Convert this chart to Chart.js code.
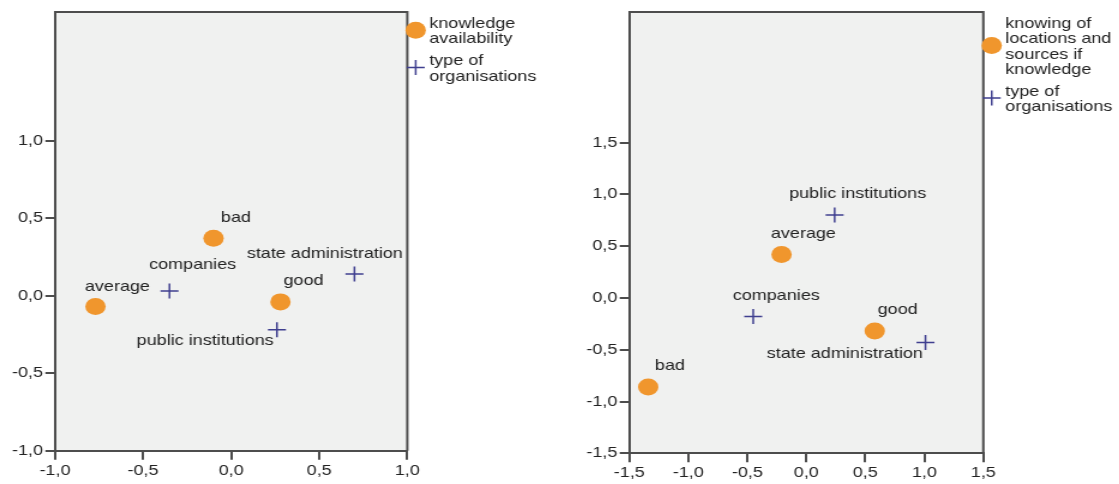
<!DOCTYPE html>
<html>
<head>
<meta charset="utf-8">
<script src="https://cdn.jsdelivr.net/npm/chart.js@4/dist/chart.umd.min.js"></script>
<style>
  body { margin: 0; background: #fff; width: 1119px; height: 484px; overflow: hidden; }
  .panel { position: absolute; top: 0; transform: scaleX(1.2); transform-origin: 0 0; }
</style>
</head>
<body>
<div class="panel" style="left:0"><canvas id="chart1" width="467" height="484"></canvas></div>
<div class="panel" style="left:560px"><canvas id="chart2" width="466" height="484"></canvas></div>
<script>
// left plot: knowledge availability x type of organisations
const availCategories = ['average', 'bad', 'good'];
const availX = [-0.77, -0.10, 0.28];
const availY = [-0.07, 0.37, -0.04];
const orgCategories1 = ['companies', 'public institutions', 'state administration'];
const orgX1 = [-0.35, 0.26, 0.70];
const orgY1 = [0.03, -0.22, 0.14];
const xTicks1 = [-1, -0.5, 0, 0.5, 1];
const yTicks1 = [-1, -0.5, 0, 0.5, 1];
const legend1 = ['knowledge\navailability', 'type of\norganisations'];

// right plot: knowing of locations and sources x type of organisations
const locCategories = ['bad', 'average', 'good'];
const locX = [-1.34, -0.21, 0.58];
const locY = [-0.86, 0.42, -0.32];
const orgCategories2 = ['companies', 'public institutions', 'state administration'];
const orgX2 = [-0.45, 0.24, 1.01];
const orgY2 = [-0.18, 0.80, -0.43];
const xTicks2 = [-1.5, -1, -0.5, 0, 0.5, 1, 1.5];
const yTicks2 = [-1.5, -1, -0.5, 0, 0.5, 1, 1.5];
const legend2 = ['knowing of\nlocations and\nsources if\nknowledge', 'type of\norganisations'];

const ORANGE = '#f0962d';
const NAVY = '#3f3f8f';
const FRAME = '#4d4d4d';
const TEXT = '#222';
const FONT = '15px "Liberation Sans", Arial, sans-serif';

const toPoints = (xs, ys) => xs.map((x, i) => ({ x, y: ys[i] }));
const fmt = v => v.toFixed(1).replace('.', ',');

function drawMarker(ctx, style, x, y) {
    if (style === 'circle') {
        ctx.fillStyle = ORANGE;
        ctx.beginPath();
        ctx.arc(x, y, 8.5, 0, Math.PI * 2);
        ctx.fill();
    } else {
        ctx.strokeStyle = NAVY;
        ctx.lineWidth = 1.5;
        ctx.beginPath();
        ctx.moveTo(x - 7.5, y); ctx.lineTo(x + 7.5, y);
        ctx.moveTo(x, y - 7.5); ctx.lineTo(x, y + 7.5);
        ctx.stroke();
    }
}

const mapDecor = {
    id: 'mapDecor',
    beforeDraw(chart) {
        const { ctx, chartArea: a } = chart;
        ctx.save();
        ctx.fillStyle = '#f0f1f0';
        ctx.fillRect(a.left, a.top, a.right - a.left, a.bottom - a.top);
        ctx.restore();
    },
    beforeDatasetsDraw(chart) {
        const { ctx, chartArea: a } = chart;
        ctx.save();
        ctx.strokeStyle = FRAME;
        ctx.lineWidth = 2;
        ctx.beginPath();
        ctx.moveTo(a.left, a.top);
        ctx.lineTo(a.right, a.top);
        ctx.lineTo(a.right, a.bottom);
        ctx.stroke();
        ctx.restore();
    },
    afterDraw(chart, args, opts) {
        const { ctx, chartArea: a } = chart;
        ctx.save();
        ctx.font = FONT;
        ctx.fillStyle = TEXT;
        ctx.textAlign = 'center';
        ctx.textBaseline = 'middle';

        // category labels next to the points
        chart.data.datasets.forEach((ds, i) => {
            const meta = chart.getDatasetMeta(i);
            meta.data.forEach((el, j) => {
                const [dx, dy] = opts.offsets[i][j];
                ctx.fillText(ds.names[j], el.x + dx, el.y + dy);
            });
        });

        // legend at the right of the frame
        let y = 24;
        chart.data.datasets.forEach((ds, i) => {
            const lines = opts.legend[i].split('\n');
            const top = y;
            ctx.fillStyle = TEXT;
            ctx.textAlign = 'left';
            lines.forEach(line => {
                ctx.fillText(line, a.right + 18.3, y);
                y += 15.3;
            });
            const mid = top + (lines.length - 1) * 15.3 / 2 - 1.5;
            drawMarker(ctx, ds.pointStyle, a.right + 7, mid);
            y += 22 - 15.3;
        });
        ctx.restore();
    }
};

function makeMap(id, cfg) {
    const axisFont = { family: '"Liberation Sans", Arial, sans-serif', size: 15 };
    return new Chart(document.getElementById(id), {
        type: 'scatter',
        data: {
            datasets: [{
                label: cfg.legend[0],
                names: cfg.rowNames,
                data: toPoints(cfg.rowX, cfg.rowY),
                pointStyle: 'circle',
                pointRadius: 8.5,
                backgroundColor: ORANGE,
                borderColor: ORANGE,
                borderWidth: 0
            }, {
                label: cfg.legend[1],
                names: cfg.colNames,
                data: toPoints(cfg.colX, cfg.colY),
                pointStyle: 'cross',
                pointRadius: 7.5,
                borderColor: NAVY,
                borderWidth: 1.5
            }]
        },
        options: {
            responsive: false,
            animation: false,
            events: [],
            layout: { padding: { top: 12, right: cfg.padRight, left: 0, bottom: 0 } },
            plugins: {
                legend: { display: false },
                tooltip: { enabled: false },
                mapDecor: { offsets: cfg.offsets, legend: cfg.legend }
            },
            scales: {
                x: {
                    type: 'linear',
                    min: cfg.xMin, max: cfg.xMax,
                    afterFit: s => { s.height = cfg.xHeight; },
                    afterBuildTicks: s => { s.ticks = cfg.xTicks.map(v => ({ value: v })); },
                    grid: { drawOnChartArea: false, tickLength: 9, color: FRAME, lineWidth: 2 },
                    border: { display: true, color: FRAME, width: 2 },
                    ticks: { font: axisFont, color: TEXT, padding: 2, maxRotation: 0, callback: fmt }
                },
                y: {
                    type: 'linear',
                    min: cfg.yMin, max: cfg.yMax,
                    afterFit: s => { s.width = cfg.yWidth; },
                    afterBuildTicks: s => { s.ticks = cfg.yTicks.map(v => ({ value: v })); },
                    grid: { drawOnChartArea: false, tickLength: 8, color: FRAME, lineWidth: 2 },
                    border: { display: true, color: FRAME, width: 2 },
                    ticks: { font: axisFont, color: TEXT, padding: 2, callback: fmt }
                }
            }
        },
        plugins: [mapDecor]
    });
}

makeMap('chart1', {
    rowNames: availCategories, rowX: availX, rowY: availY,
    colNames: orgCategories1, colX: orgX1, colY: orgY1,
    legend: legend1,
    xMin: -1, xMax: 1, yMin: -1, yMax: 1.83,
    xTicks: xTicks1, yTicks: yTicks1,
    yWidth: 45.8, xHeight: 33.3, padRight: 127.6,
    offsets: [
        [[18.3, -20], [18.7, -20], [19.2, -21.3]],
        [[19.3, -26.4], [-59.8, 10.7], [-24.7, -20]]
    ]
});

makeMap('chart2', {
    rowNames: locCategories, rowX: locX, rowY: locY,
    colNames: orgCategories2, colX: orgX2, colY: orgY2,
    legend: legend2,
    xMin: -1.5, xMax: 1.5, yMin: -1.5, yMax: 2.76,
    xTicks: xTicks2, yTicks: yTicks2,
    yWidth: 57.75, xHeight: 30.7, padRight: 113.25,
    offsets: [
        [[18.1, -20.7], [18.2, -20.7], [19.1, -21.7]],
        [[19.2, -20.3], [19.2, -21], [-67.2, 11]]
    ]
});
</script>
</body>
</html>
